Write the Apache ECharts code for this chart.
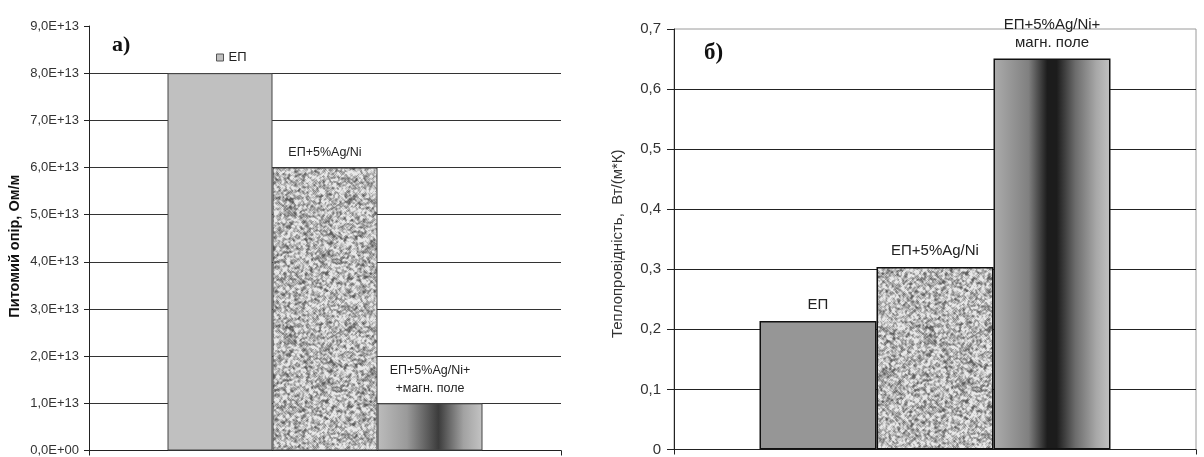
<!DOCTYPE html>
<html>
<head>
<meta charset="utf-8">
<script src="https://cdn.jsdelivr.net/npm/echarts@6/dist/echarts.min.js"></script>
<style>
  html, body { margin: 0; padding: 0; background: #fff; }
  #chart { width: 1204px; height: 457px; }
</style>
</head>
<body>
<div id="chart"></div>
<script>
// ---- data ----
const categories = [''];

// panel а) — specific resistance
const namesA = ['ЕП', 'ЕП+5%Ag/Ni', 'ЕП+5%Ag/Ni+ магн. поле'];
const labelsA = ['', 'ЕП+5%Ag/Ni', 'ЕП+5%Ag/Ni+\n+магн. поле'];
const resistivity = [8.0e13, 6.0e13, 1.0e13];
const ticksA = ['0,0E+00', '1,0E+13', '2,0E+13', '3,0E+13', '4,0E+13',
                '5,0E+13', '6,0E+13', '7,0E+13', '8,0E+13', '9,0E+13'];
const titleA = 'Питомий опір, Ом/м';

// panel б) — thermal conductivity
const namesB = ['ЕП ', 'ЕП+5%Ag/Ni ', 'ЕП+5%Ag/Ni+ магн. поле '];
const labelsB = ['ЕП', 'ЕП+5%Ag/Ni', 'ЕП+5%Ag/Ni+\nмагн. поле'];
const conductivity = [0.214, 0.304, 0.651];
const ticksB = ['0', '0,1', '0,2', '0,3', '0,4', '0,5', '0,6', '0,7'];
const titleB = 'Теплопровідність,  Вт/(м*К)';

const legendItems = ['ЕП'];
const panelMarks = ['а)', 'б)'];

// ---- granite-like fill texture (deterministic PRNG) ----
function makeGranite(size) {
  let s = 20240611;
  const rnd = () => {
    s |= 0; s = s + 0x6D2B79F5 | 0;
    let t = Math.imul(s ^ s >>> 15, 1 | s);
    t = t + Math.imul(t ^ t >>> 7, 61 | t) ^ t;
    return ((t ^ t >>> 14) >>> 0) / 4294967296;
  };
  const raw = new Float32Array(size * size);
  for (let i = 0; i < raw.length; i++) raw[i] = rnd();
  const c = document.createElement('canvas');
  c.width = c.height = size;
  const ctx = c.getContext('2d');
  const img = ctx.createImageData(size, size);
  for (let y = 0; y < size; y++) {
    for (let x = 0; x < size; x++) {
      let sum = 0;
      for (let dy = -1; dy <= 1; dy++)
        for (let dx = -1; dx <= 1; dx++)
          sum += raw[((y + dy + size) % size) * size + ((x + dx + size) % size)] * (dx === 0 && dy === 0 ? 3 : 1);
      const avg = sum / 11;
      const g = Math.max(95, Math.min(232, 184 + (avg - 0.5) * 340));
      const k = (y * size + x) * 4;
      img.data[k] = img.data[k + 1] = img.data[k + 2] = g;
      img.data[k + 3] = 255;
    }
  }
  ctx.putImageData(img, 0, 0);
  return c;
}
const granite = makeGranite(128);

const font = "'Liberation Sans', Arial, sans-serif";
const serif = "'Liberation Serif', 'Times New Roman', serif";

const gradA = {
  type: 'linear', x: 0, y: 0, x2: 1, y2: 0,
  colorStops: [
    { offset: 0, color: '#bcbcbc' },
    { offset: 0.28, color: '#9a9a9a' },
    { offset: 0.58, color: '#3c3c3c' },
    { offset: 0.82, color: '#a2a2a2' },
    { offset: 1, color: '#c4c4c4' }
  ]
};
const gradB = {
  type: 'linear', x: 0, y: 0, x2: 1, y2: 0,
  colorStops: [
    { offset: 0, color: '#acacac' },
    { offset: 0.3, color: '#808080' },
    { offset: 0.46, color: '#1c1c1c' },
    { offset: 0.54, color: '#1c1c1c' },
    { offset: 0.7, color: '#6c6c6c' },
    { offset: 0.88, color: '#a8a8a8' },
    { offset: 1, color: '#c2c2c2' }
  ]
};

const fillsA = ['#c0c0c0', { image: granite, repeat: 'repeat' }, gradA];
const fillsB = ['#969696', { image: granite, repeat: 'repeat' }, gradB];

function xAxisFor(gridIndex) {
  return {
    type: 'category', gridIndex, data: categories,
    axisLine: { show: true, lineStyle: { color: '#222', width: 1 } },
    axisTick: { show: true, length: 5, lineStyle: { color: '#222' } },
    axisLabel: { show: false }
  };
}

const series = [];
namesA.forEach((n, i) => {
  series.push({
    name: n, type: 'bar', xAxisIndex: 0, yAxisIndex: 0,
    barWidth: 105, barGap: '0%',
    data: [resistivity[i]],
    itemStyle: { color: fillsA[i], borderColor: '#444', borderWidth: 1 },
    label: {
      show: labelsA[i] !== '', position: 'top', distance: 6,
      formatter: labelsA[i], color: '#222', fontFamily: font, fontSize: 12.5, lineHeight: 18
    },
    emphasis: { disabled: true }
  });
});
namesB.forEach((n, i) => {
  series.push({
    name: n, type: 'bar', xAxisIndex: 1, yAxisIndex: 1,
    barWidth: 117, barGap: '0%',
    data: [conductivity[i]],
    itemStyle: { color: fillsB[i], borderColor: '#111', borderWidth: 1.5 },
    label: {
      show: true, position: 'top', distance: 7,
      formatter: labelsB[i], color: '#222', fontFamily: font, fontSize: 15, lineHeight: 18
    },
    emphasis: { disabled: true }
  });
});

const option = {
  animation: false,
  backgroundColor: '#fff',
  grid: [
    { left: 89, top: 26, width: 472, bottom: 6 },
    { left: 674, top: 29, right: 8, bottom: 5, show: true, borderColor: '#9a9a9a', borderWidth: 1 }
  ],
  legend: {
    data: legendItems, left: 216, top: 51, padding: 0,
    icon: 'rect', itemWidth: 7, itemHeight: 7, itemGap: 5,
    selectedMode: false,
    itemStyle: { color: '#c0c0c0', borderColor: '#555', borderWidth: 1 },
    textStyle: { color: '#222', fontFamily: font, fontSize: 13 }
  },
  xAxis: [xAxisFor(0), xAxisFor(1)],
  yAxis: [
    {
      type: 'value', gridIndex: 0, min: 0, max: 9e13, interval: 1e13,
      name: titleA, nameLocation: 'middle', nameGap: 67,
      nameTextStyle: { fontFamily: font, fontSize: 14.5, fontWeight: 'bold', color: '#111', padding: [0, 16, 0, 0] },
      axisLine: { show: true, lineStyle: { color: '#222' } },
      axisTick: { show: true, length: 5, lineStyle: { color: '#222' } },
      axisLabel: {
        margin: 10, color: '#333', fontFamily: font, fontSize: 13,
        formatter: v => ticksA[Math.round(v / 1e13)]
      },
      splitLine: { show: true, showMaxLine: false, lineStyle: { color: '#333', width: 1 } }
    },
    {
      type: 'value', gridIndex: 1, min: 0, max: 0.7, interval: 0.1,
      name: titleB, nameLocation: 'middle', nameGap: 49,
      nameTextStyle: { fontFamily: font, fontSize: 15, color: '#333', padding: [0, 9, 0, 0] },
      axisLine: { show: true, lineStyle: { color: '#222' } },
      axisTick: { show: true, length: 7, lineStyle: { color: '#222' } },
      axisLabel: {
        margin: 13, color: '#333', fontFamily: font, fontSize: 15,
        formatter: v => ticksB[Math.round(v * 10)]
      },
      splitLine: { show: true, showMaxLine: false, lineStyle: { color: '#222', width: 1 } }
    }
  ],
  graphic: [
    { type: 'text', left: 112, top: 34, style: { text: panelMarks[0], font: 'bold 22px ' + serif, fill: '#111' } },
    { type: 'text', left: 704, top: 42, style: { text: panelMarks[1], font: 'bold 23px ' + serif, fill: '#111' } }
  ],
  series
};

const chart = echarts.init(document.getElementById('chart'), null, { renderer: 'canvas' });
chart.setOption(option);
</script>
</body>
</html>
